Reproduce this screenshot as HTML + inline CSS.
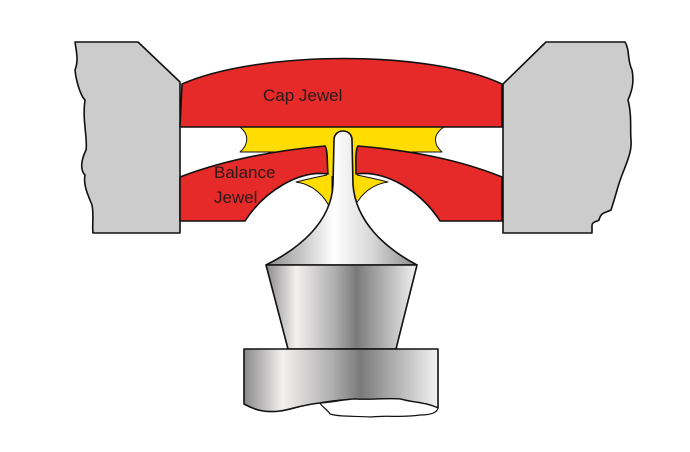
<!DOCTYPE html>
<html><head><style>html,body{margin:0;padding:0;background:#fff;width:690px;height:452px;overflow:hidden}</style></head>
<body>
<svg width="690" height="452" viewBox="0 0 690 452" xmlns="http://www.w3.org/2000/svg">
<defs>
<linearGradient id="m" x1="0" x2="1" y1="0" y2="0">
<stop offset="0" stop-color="#8a8a8a"/><stop offset="0.2" stop-color="#f4f0f0"/><stop offset="0.45" stop-color="#b0b0b0"/><stop offset="0.6" stop-color="#7a7a7a"/><stop offset="1" stop-color="#f2f2f2"/>
</linearGradient>
<linearGradient id="s" x1="0" x2="1" y1="0" y2="0">
<stop offset="0" stop-color="#8a8a8a"/><stop offset="0.45" stop-color="#ffffff"/><stop offset="0.7" stop-color="#d8d8d8"/><stop offset="1" stop-color="#8a8a8a"/>
</linearGradient>
</defs>
<g stroke="#111" stroke-width="1.6" stroke-linejoin="round">
<path d="M75,42 L138,42 L180,82 L180,233 L93,233 C92,225 94,215 92,205 C88,195 83,185 85,175 C80,170 81,160 86,150 C88,140 82,120 85,100 C80,95 76,80 75,70 C79,60 76,50 75,42 Z" fill="#cccccc"/>
<path d="M503,84 L546,42 L625,42 C630,50 627,60 632,70 C635,85 630,95 628,100 C632,115 630,130 631,140 C632,150 628,160 622,175 C618,185 616,195 611,210 C605,213 601,212 599,220 C597,222 593,221 592,225 L592,233 L503,233 Z" fill="#cccccc"/>
<path d="M240,127 L444,127 C432,135 434,145 442,152 L240,152 C248,145 250,135 240,127 Z" fill="#ffdd00" stroke-width="1"/>
<path d="M296,182 C312,178 322,176 332,174 L332,212 C326,198 316,185 296,182 Z" fill="#ffdd00" stroke-width="1"/>
<path d="M388,182 C372,178 362,176 352,174 L352,212 C358,198 368,185 388,182 Z" fill="#ffdd00" stroke-width="1"/>
<path d="M327,146 L327,176 L357,176 L357,146 Z" fill="#ffdd00" stroke="none"/>
<path d="M180,127 L502,127 L502,84 C430,50 260,50 182,84 Z" fill="#e52a29"/>
<path d="M180,177 C230,158 280,150 325,146 C328,150 327,165 328,174 C300,170 265,190 245,221 L180,221 Z" fill="#e52a29"/>
<path d="M502,177 C455,158 405,150 358,146 C355,150 356,165 356,174 C385,170 420,190 440,221 L502,221 Z" fill="#e52a29"/>
<path d="M334,140 C334,128 352,128 352,140 L353,185 C356,222 385,248 417,265 L266,265 C300,248 331,222 333,185 Z" fill="url(#s)"/>
<path d="M266,265 L417,265 L396,349 L288,349 Z" fill="url(#m)"/>
<path d="M244,349 L438,349 L438,408 C425,402 415,403 400,399 C385,398 370,400 355,399 C340,400 325,402 320,403 C300,405 290,410 280,411 C265,413 255,410 244,404 Z" fill="url(#m)"/>
<path d="M320,403 C335,402 340,400 355,399 C370,400 385,398 400,399 C415,403 425,402 438,408 C437,413 430,415 420,415 C400,418 390,415 370,417 C355,416 340,417 330,414 C328,410 322,407 320,403 Z" fill="#fff" stroke-width="1.2"/>
</g>
<g font-family="Liberation Sans, sans-serif" font-size="17" fill="#2a1a1a">
<text x="263" y="101">Cap Jewel</text>
<text x="214" y="178">Balance</text>
<text x="214" y="203">Jewel</text>
</g>
</svg>
</body></html>
